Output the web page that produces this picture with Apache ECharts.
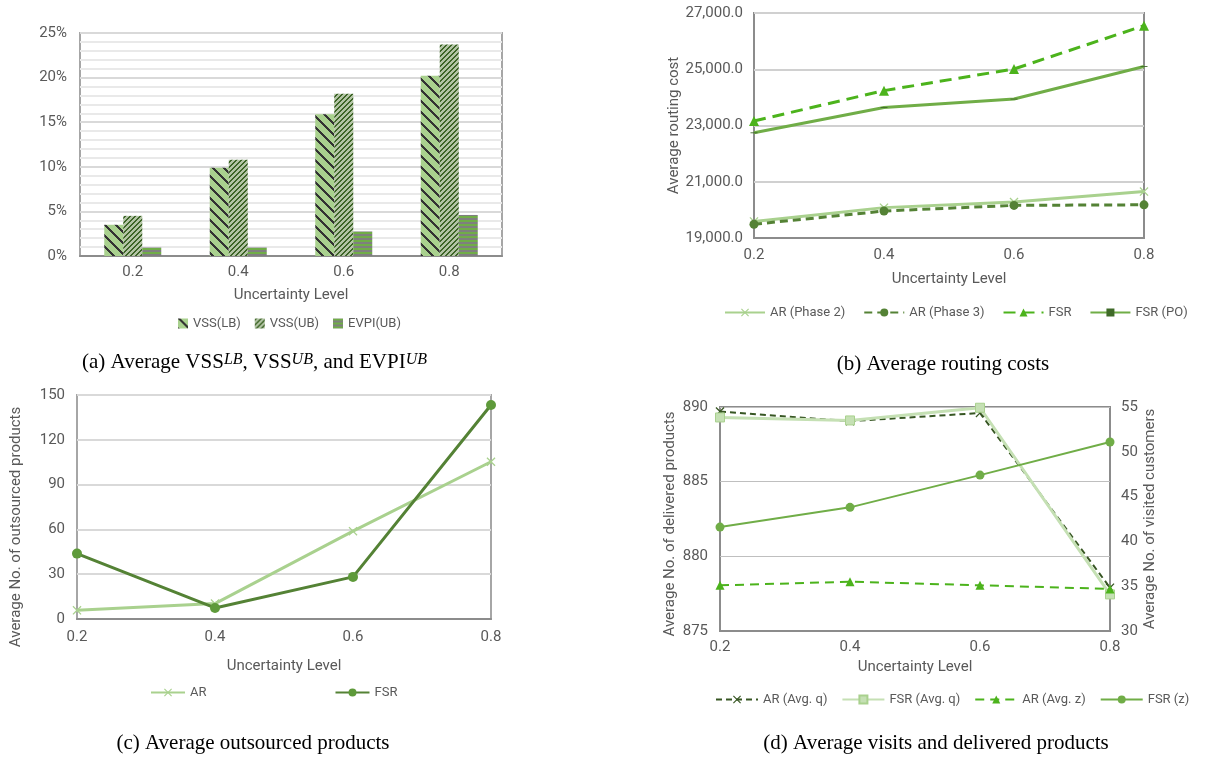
<!DOCTYPE html>
<html>
<head>
<meta charset="utf-8">
<script src="https://cdn.jsdelivr.net/npm/echarts@6/dist/echarts.min.js"></script>
<style>
html,body{margin:0;padding:0;background:#fff;}
#chart{width:1210px;height:758px;}
</style>
</head>
<body>
<div id="chart"></div>
<script>
// ---------- data ----------
const categories = ['0.2', '0.4', '0.6', '0.8'];
// (a) percentages
const vssLB = [3.5, 9.9, 15.9, 20.2];
const vssUB = [4.5, 10.8, 18.2, 23.7];
const evpiUB = [0.95, 0.95, 2.75, 4.6];
// (b) routing costs
const arPhase2 = [19590, 20080, 20280, 20650];
const arPhase3 = [19490, 19960, 20160, 20180];
const fsrCost = [23160, 24240, 25010, 26550];
const fsrPO = [22740, 23640, 23940, 25100];
// (c) outsourced products
const arOut = [5.8, 10.3, 58.8, 105.3];
const fsrOut = [43.8, 7.4, 28.2, 143.3];
// (d) delivered products (left) and visited customers (right)
const arQ = [889.7, 889.05, 889.6, 877.9];
const fsrQ = [889.3, 889.1, 889.95, 877.45];
const arZ = [35.1, 35.5, 35.1, 34.7];
const fsrZ = [41.6, 43.8, 47.4, 51.1];

// ---------- patterns ----------
function stripePattern(size, test, c1, c2) {
  const cv = document.createElement('canvas');
  cv.width = size; cv.height = size;
  const ctx = cv.getContext('2d');
  for (let y = 0; y < size; y++) {
    for (let x = 0; x < size; x++) {
      ctx.fillStyle = test(x, y) ? c1 : c2;
      ctx.fillRect(x, y, 1, 1);
    }
  }
  return { image: cv, repeat: 'repeat' };
}
const patLB = stripePattern(11, (x, y) => ((x - y + 22) % 11) < 3, '#333333', '#a9d18e');
const patUB = stripePattern(5, (x, y) => ((x + y) % 5) < 2, '#3d6527', '#b3c4a5');
const patEV = stripePattern(4, (x, y) => y < 2, '#70ad47', '#7f7f7f');

const FONT = 'Roboto';
const GRAY = '#595959';
const xSym = 'path://M1,0 L5,4 L9,0 L10,1 L6,5 L10,9 L9,10 L5,6 L1,10 L0,9 L4,5 L0,1 Z';
const dashSym = 'path://M0,0 H10 V3 H0 Z';

const lbl = { color: GRAY, fontFamily: FONT, fontSize: 15 };
const nameStyle = { color: GRAY, fontFamily: FONT, fontSize: 15 };
const legText = { color: GRAY, fontFamily: FONT, fontSize: 13 };

function catAxis(gi, gap, nameGap, margin) {
  return {
    type: 'category', gridIndex: gi, data: categories, boundaryGap: gap,
    name: 'Uncertainty Level', nameLocation: 'middle', nameGap: nameGap,
    nameTextStyle: nameStyle,
    axisLine: { show: true, lineStyle: { color: '#8c8c8c', width: 2 } },
    axisTick: { show: false },
    axisLabel: Object.assign({ margin: margin }, lbl)
  };
}

const chart = echarts.init(document.getElementById('chart'), null, { renderer: 'canvas' });

const option = {
  animation: false,
  backgroundColor: '#ffffff',
  grid: [
    { left: 80, top: 33, width: 422, height: 223, show: true, borderColor: '#a6a6a6', borderWidth: 2 },
    { left: 754, top: 13, width: 390, height: 225, show: true, borderColor: '#8c8c8c', borderWidth: 2 },
    { left: 77, top: 395, width: 414, height: 224, show: true, borderColor: '#a6a6a6', borderWidth: 2 },
    { left: 720, top: 407, width: 390, height: 224, show: true, borderColor: '#8c8c8c', borderWidth: 2 }
  ],
  xAxis: [
    catAxis(0, true, 32, 9),
    catAxis(1, false, 34, 10),
    catAxis(2, false, 40, 11),
    catAxis(3, false, 29, 9)
  ],
  yAxis: [
    {
      type: 'value', gridIndex: 0, min: 0, max: 25, interval: 5,
      axisLine: { show: false }, axisTick: { show: false },
      axisLabel: Object.assign({ margin: 13, formatter: '{value}%' }, lbl),
      splitLine: { show: true, lineStyle: { color: '#d9d9d9', width: 2 } },
      minorTick: { show: false, splitNumber: 5 },
      minorSplitLine: { show: true, lineStyle: { color: '#e9e9e9', width: 2 } }
    },
    {
      type: 'value', gridIndex: 1, min: 19000, max: 27000, interval: 2000,
      name: 'Average routing cost', nameLocation: 'middle', nameGap: 67, nameTextStyle: nameStyle,
      axisLine: { show: false }, axisTick: { show: false },
      axisLabel: Object.assign({ margin: 11, formatter: v => v.toLocaleString('en-US', { minimumFractionDigits: 1, maximumFractionDigits: 1 }) }, lbl),
      splitLine: { show: true, lineStyle: { color: '#d0d0d0', width: 2 } }
    },
    {
      type: 'value', gridIndex: 2, min: 0, max: 150, interval: 30,
      name: 'Average No. of outsourced products', nameLocation: 'middle', nameGap: 53,
      nameTextStyle: Object.assign({ padding: [0, 40, 0, 0] }, nameStyle),
      axisLine: { show: false }, axisTick: { show: false },
      axisLabel: Object.assign({ margin: 12 }, lbl),
      splitLine: { show: true, lineStyle: { color: '#d9d9d9', width: 2 } }
    },
    {
      type: 'value', gridIndex: 3, min: 875, max: 890, interval: 5,
      name: 'Average No. of delivered products', nameLocation: 'middle', nameGap: 42,
      nameTextStyle: Object.assign({ padding: [0, 10, 0, 0] }, nameStyle),
      axisLine: { show: false }, axisTick: { show: false },
      axisLabel: Object.assign({ margin: 12 }, lbl),
      splitLine: { show: true, lineStyle: { color: '#bfbfbf', width: 1 } }
    },
    {
      type: 'value', gridIndex: 3, position: 'right', min: 30, max: 55, interval: 5,
      name: 'Average No. of visited customers', nameLocation: 'middle', nameGap: 33, nameTextStyle: nameStyle,
      axisLine: { show: false }, axisTick: { show: false },
      axisLabel: Object.assign({ margin: 11 }, lbl),
      splitLine: { show: false }
    }
  ],
  legend: [
    {
      data: ['VSS(LB)', 'VSS(UB)', 'EVPI(UB)'], left: 178, top: 317, padding: 0,
      icon: 'rect', itemWidth: 10, itemHeight: 10, itemGap: 14, itemStyle: { borderWidth: 0 },
      textStyle: legText
    },
    {
      data: ['AR (Phase 2)', 'AR (Phase 3)', 'FSR', 'FSR (PO)'], left: 724, top: 306, width: 485, padding: 0,
      itemWidth: 40, itemHeight: 10, itemGap: 18,
      textStyle: legText
    },
    {
      data: ['AR', 'FSR '], left: 150, top: 686, padding: 0,
      itemWidth: 34, itemHeight: 10, itemGap: 128,
      textStyle: legText
    },
    {
      data: ['AR (Avg. q)', 'FSR (Avg. q)', 'AR (Avg. z)', 'FSR (z)'], left: 715, top: 693, width: 490, padding: 0,
      itemWidth: 42, itemHeight: 10, itemGap: 14,
      textStyle: legText
    }
  ],
  series: [
    // (a)
    { name: 'VSS(LB)', type: 'bar', xAxisIndex: 0, yAxisIndex: 0, data: vssLB, barWidth: 19, barGap: '0%', itemStyle: { color: patLB } },
    { name: 'VSS(UB)', type: 'bar', xAxisIndex: 0, yAxisIndex: 0, data: vssUB, barWidth: 19, barGap: '0%', itemStyle: { color: patUB } },
    { name: 'EVPI(UB)', type: 'bar', xAxisIndex: 0, yAxisIndex: 0, data: evpiUB, barWidth: 19, barGap: '0%', itemStyle: { color: patEV } },
    // (b)
    { name: 'AR (Phase 2)', type: 'line', xAxisIndex: 1, yAxisIndex: 1, data: arPhase2,
      lineStyle: { color: '#a9d18e', width: 3 }, itemStyle: { color: '#a9d18e' }, symbol: xSym, symbolSize: 9 },
    { name: 'AR (Phase 3)', type: 'line', xAxisIndex: 1, yAxisIndex: 1, data: arPhase3,
      lineStyle: { color: '#548235', width: 3, type: [8, 5] }, itemStyle: { color: '#548235' }, symbol: 'circle', symbolSize: 9 },
    { name: 'FSR', type: 'line', xAxisIndex: 1, yAxisIndex: 1, data: fsrCost,
      lineStyle: { color: '#4cb31c', width: 3, type: [12, 7] }, itemStyle: { color: '#4cb31c' }, symbol: 'triangle', symbolSize: 10 },
    { name: 'FSR (PO)', type: 'line', xAxisIndex: 1, yAxisIndex: 1, data: fsrPO,
      lineStyle: { color: '#70ad47', width: 3 }, itemStyle: { color: '#3f6a28' }, symbol: dashSym, symbolKeepAspect: true, symbolSize: [7, 3] },
    // (c)
    { name: 'AR', type: 'line', xAxisIndex: 2, yAxisIndex: 2, data: arOut,
      lineStyle: { color: '#a9d18e', width: 3 }, itemStyle: { color: '#a9d18e' }, symbol: xSym, symbolSize: 9 },
    { name: 'FSR ', type: 'line', xAxisIndex: 2, yAxisIndex: 2, data: fsrOut,
      lineStyle: { color: '#548235', width: 3 }, itemStyle: { color: '#5e9a3a' }, symbol: 'circle', symbolSize: 10 },
    // (d)
    { name: 'AR (Avg. q)', type: 'line', xAxisIndex: 3, yAxisIndex: 3, data: arQ,
      lineStyle: { color: '#375623', width: 2, type: [6, 4] }, itemStyle: { color: '#375623' }, symbol: xSym, symbolSize: 9 },
    { name: 'FSR (Avg. q)', type: 'line', xAxisIndex: 3, yAxisIndex: 3, data: fsrQ,
      lineStyle: { color: '#c5e0b4', width: 3 }, itemStyle: { color: '#c5e0b4', borderColor: '#a9d18e', borderWidth: 1 }, symbol: 'rect', symbolSize: 9 },
    { name: 'AR (Avg. z)', type: 'line', xAxisIndex: 3, yAxisIndex: 4, data: arZ,
      lineStyle: { color: '#4cb31c', width: 2, type: [9, 6] }, itemStyle: { color: '#4cb31c' }, symbol: 'triangle', symbolSize: 9 },
    { name: 'FSR (z)', type: 'line', xAxisIndex: 3, yAxisIndex: 4, data: fsrZ,
      lineStyle: { color: '#70ad47', width: 2 }, itemStyle: { color: '#70ad47' }, symbol: 'circle', symbolSize: 9 }
  ],
  graphic: [
    { type: 'text', x: 82, y: 362, style: {
        text: '(a) Average VSS{sup|LB}, VSS{sup|UB}, and EVPI{sup|UB}',
        fontFamily: 'Liberation Serif', fontSize: 21, fill: '#000', verticalAlign: 'middle', align: 'left',
        rich: { sup: { fontFamily: 'Liberation Serif', fontSize: 16, fontStyle: 'italic', verticalAlign: 'top', lineHeight: 14 } }
    } },
    { type: 'text', x: 943, y: 364, style: { text: '(b) Average routing costs', fontFamily: 'Liberation Serif', fontSize: 21, fill: '#000', align: 'center', verticalAlign: 'middle' } },
    { type: 'text', x: 253, y: 743, style: { text: '(c) Average outsourced products', fontFamily: 'Liberation Serif', fontSize: 21, fill: '#000', align: 'center', verticalAlign: 'middle' } },
    { type: 'text', x: 936, y: 743, style: { text: '(d) Average visits and delivered products', fontFamily: 'Liberation Serif', fontSize: 21, fill: '#000', align: 'center', verticalAlign: 'middle' } }
  ]
};
chart.setOption(option);
</script>
</body>
</html>
